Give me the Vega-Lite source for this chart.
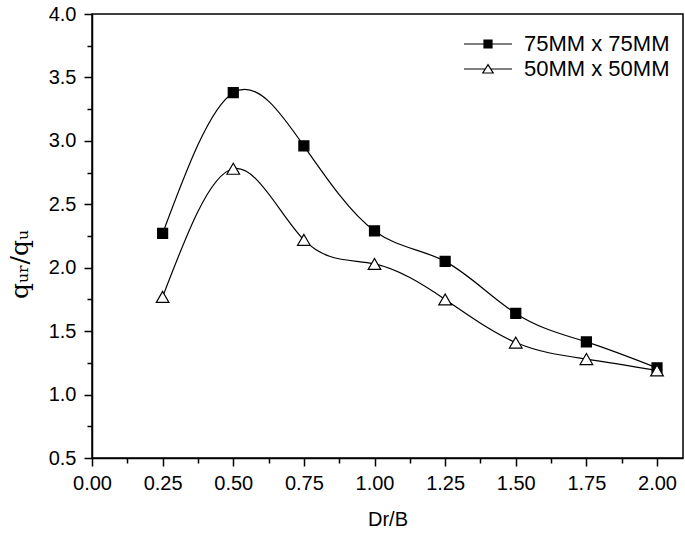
{
  "$schema": "https://vega.github.io/schema/vega-lite/v6.json",
  "width": 591,
  "height": 444,
  "autosize": {"type": "none"},
  "padding": {"left": 92, "top": 14, "right": 2, "bottom": 77},
  "background": "white",
  "config": {
    "view": {"stroke": "black", "strokeWidth": 1.5},
    "font": "Liberation Sans"
  },
  "data": {
    "values": [
      {"x": 0.25, "y": 2.27, "s": "75MM x 75MM"},
      {"x": 0.5, "y": 3.38, "s": "75MM x 75MM"},
      {"x": 0.75, "y": 2.96, "s": "75MM x 75MM"},
      {"x": 1.0, "y": 2.29, "s": "75MM x 75MM"},
      {"x": 1.25, "y": 2.05, "s": "75MM x 75MM"},
      {"x": 1.5, "y": 1.64, "s": "75MM x 75MM"},
      {"x": 1.75, "y": 1.415, "s": "75MM x 75MM"},
      {"x": 2.0, "y": 1.21, "s": "75MM x 75MM"},
      {"x": 0.25, "y": 1.77, "s": "50MM x 50MM"},
      {"x": 0.5, "y": 2.78, "s": "50MM x 50MM"},
      {"x": 0.75, "y": 2.22, "s": "50MM x 50MM"},
      {"x": 1.0, "y": 2.03, "s": "50MM x 50MM"},
      {"x": 1.25, "y": 1.75, "s": "50MM x 50MM"},
      {"x": 1.5, "y": 1.41, "s": "50MM x 50MM"},
      {"x": 1.75, "y": 1.28, "s": "50MM x 50MM"},
      {"x": 2.0, "y": 1.19, "s": "50MM x 50MM"}
    ]
  },
  "encoding": {
    "x": {
      "field": "x", "type": "quantitative",
      "scale": {"domain": [0, 2.092], "nice": false, "zero": false},
      "axis": {
        "title": "Dr/B",
        "values": [0, 0.125, 0.25, 0.375, 0.5, 0.625, 0.75, 0.875, 1.0, 1.125, 1.25, 1.375, 1.5, 1.625, 1.75, 1.875, 2.0],
        "labelExpr": "(datum.value * 4) % 1 != 0 ? '' : format(datum.value, '.2f')",
        "tickSize": {"condition": {"test": "(datum.value * 4) % 1 != 0", "value": 5}, "value": 8},
        "tickColor": "black", "tickWidth": 1.5,
        "domainColor": "black", "domainWidth": 1.5,
        "grid": false,
        "labelFontSize": 20, "labelColor": "black", "labelPadding": 7,
        "labelFont": "Liberation Sans",
        "titleFont": "Liberation Sans", "titleFontSize": 20, "titleFontWeight": "normal",
        "titleColor": "black", "titlePadding": 16,
        "labelFlush": false, "labelOverlap": false
      }
    },
    "y": {
      "field": "y", "type": "quantitative",
      "scale": {"domain": [0.5, 4.0], "nice": false, "zero": false},
      "axis": {
        "title": "qᵤᵣ/qᵤ",
        "values": [0.5, 0.75, 1.0, 1.25, 1.5, 1.75, 2.0, 2.25, 2.5, 2.75, 3.0, 3.25, 3.5, 3.75, 4.0],
        "labelExpr": "(datum.value * 2) % 1 != 0 ? '' : format(datum.value, '.1f')",
        "tickSize": {"condition": {"test": "(datum.value * 2) % 1 != 0", "value": 5}, "value": 8},
        "tickColor": "black", "tickWidth": 1.5,
        "domainColor": "black", "domainWidth": 1.5,
        "grid": false,
        "labelFontSize": 20, "labelColor": "black", "labelPadding": 8,
        "labelFont": "Liberation Sans",
        "titleFont": "DejaVu Serif", "titleFontSize": 25, "titleFontWeight": "normal",
        "titleColor": "black", "titlePadding": 16, "titleY": 250,
        "labelFlush": false, "labelOverlap": false
      }
    }
  },
  "resolve": {"scale": {"shape": "independent", "fill": "independent", "size": "independent", "stroke": "independent"}},
  "layer": [
    {
      "mark": {"type": "line", "interpolate": "natural", "color": "black", "strokeWidth": 1.2},
      "encoding": {"detail": {"field": "s"}}
    },
    {
      "mark": {"type": "point", "filled": true, "stroke": "black", "strokeWidth": 1.2, "opacity": 1},
      "encoding": {
        "shape": {
          "field": "s", "type": "nominal",
          "scale": {"domain": ["75MM x 75MM", "50MM x 50MM"], "range": ["square", "triangle-up"]},
          "legend": null
        },
        "size": {
          "field": "s", "type": "nominal",
          "scale": {"domain": ["75MM x 75MM", "50MM x 50MM"], "range": [100, 160]},
          "legend": null
        },
        "fill": {
          "field": "s", "type": "nominal",
          "scale": {"domain": ["75MM x 75MM", "50MM x 50MM"], "range": ["black", "white"]},
          "legend": null
        }
      }
    },
    {
      "mark": {"type": "point", "filled": true, "size": 0, "opacity": 1, "strokeWidth": 1.2},
      "encoding": {
        "shape": {
          "field": "s", "type": "nominal",
          "scale": {"domain": ["75MM x 75MM", "50MM x 50MM"], "range": ["M-6,0H-1M1,0H6M-1,-1H1V1H-1Z", "M-6,0H-0.66M0.66,0H6M0,-1.1L1.3,1L-1.3,1Z"]},
          "legend": {
            "title": null,
            "orient": "none",
            "legendX": 385,
            "legendY": 19,
            "padding": 0,
            "symbolSize": 64,
            "symbolStrokeWidth": 1.2,
            "labelFontSize": 22,
            "labelFont": "Liberation Sans",
            "labelColor": "black",
            "labelOffset": 25,
            "rowPadding": 3
          }
        },
        "fill": {
          "field": "s", "type": "nominal",
          "scale": {"domain": ["75MM x 75MM", "50MM x 50MM"], "range": ["black", "white"]}
        },
        "stroke": {
          "field": "s", "type": "nominal",
          "scale": {"domain": ["75MM x 75MM", "50MM x 50MM"], "range": ["black", "black"]}
        }
      }
    }
  ]
}
